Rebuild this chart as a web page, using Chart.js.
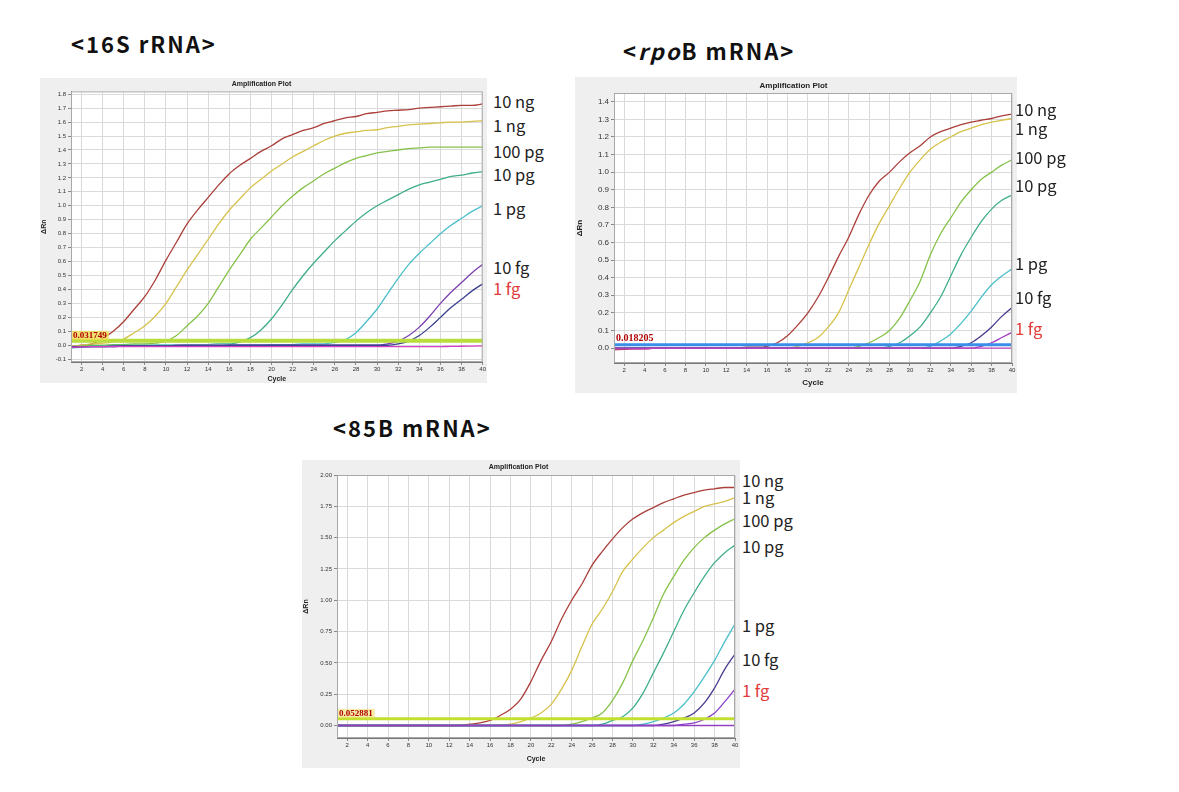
<!DOCTYPE html>
<html>
<head>
<meta charset="utf-8">
<script src="https://cdn.jsdelivr.net/npm/chart.js@4"></script>
<style>
  body { margin: 0; background: #fff; width: 1179px; height: 792px; position: relative; overflow: hidden;
         font-family: "Noto Sans CJK KR", "Noto Sans", sans-serif; }
  .head { position: absolute; font-weight: bold; font-size: 22px; letter-spacing: 2px; color: #111;
          white-space: nowrap; line-height: 1; }
  .lbl { position: absolute; font-size: 16.5px; color: #222; white-space: nowrap; line-height: 1; }
  canvas { position: absolute; }
</style>
</head>
<body>
<div class="head" style="left:71px;top:32px">&lt;16S rRNA&gt;</div>
<div class="head" style="left:623px;top:39px">&lt;<i>rpo</i>B mRNA&gt;</div>
<div class="head" style="left:333px;top:416px">&lt;85B mRNA&gt;</div>

<canvas id="c16s" width="447" height="305" style="left:40px;top:78px"></canvas>
<canvas id="crpob" width="442" height="316" style="left:575px;top:77px"></canvas>
<canvas id="c85b" width="438" height="308" style="left:302px;top:460px"></canvas>

<script>
// --- data -----------------------------------------------------------
const CYCLES = [1,2,3,4,5,6,7,8,9,10,11,12,13,14,15,16,17,18,19,20,
                21,22,23,24,25,26,27,28,29,30,31,32,33,34,35,36,37,38,39,40];
const LABELS = ['10 ng', '1 ng', '100 pg', '10 pg', '1 pg', '10 fg', '1 fg'];

// 16S rRNA
const S16_10NG = [-0.01,0.00,0.01,0.05,0.10,0.17,0.26,0.35,0.47,0.61,
                  0.74,0.87,0.97,1.06,1.15,1.23,1.29,1.34,1.39,1.43,
                  1.48,1.51,1.54,1.56,1.59,1.61,1.63,1.64,1.66,1.67,
                  1.68,1.685,1.69,1.70,1.705,1.71,1.715,1.72,1.72,1.73];
const S16_1NG = [-0.01,0.00,0.01,0.015,0.025,0.045,0.09,0.14,0.21,0.30,
                 0.42,0.54,0.65,0.76,0.87,0.97,1.05,1.13,1.19,1.25,
                 1.30,1.35,1.39,1.43,1.47,1.50,1.52,1.53,1.54,1.545,
                 1.56,1.57,1.58,1.585,1.59,1.595,1.60,1.60,1.605,1.61];
const S16_100PG = [-0.01,-0.005,0.00,0.00,0.005,0.005,0.01,0.01,0.015,0.03,
                   0.07,0.14,0.21,0.30,0.42,0.54,0.65,0.76,0.84,0.92,
                   1.00,1.07,1.13,1.18,1.23,1.27,1.31,1.34,1.36,1.38,
                   1.39,1.40,1.41,1.415,1.42,1.42,1.42,1.42,1.42,1.42];
const S16_10PG = [-0.01,-0.01,-0.005,-0.005,0.00,0.00,0.00,0.00,0.00,0.00,
                  0.00,0.005,0.005,0.005,0.01,0.01,0.025,0.055,0.11,0.19,
                  0.29,0.40,0.50,0.59,0.67,0.75,0.82,0.89,0.95,1.00,
                  1.04,1.08,1.12,1.15,1.17,1.19,1.21,1.22,1.235,1.245];
const S16_1PG = [-0.02,-0.015,-0.01,-0.01,-0.01,-0.005,-0.005,-0.005,0.00,0.00,
                 0.00,0.00,0.00,0.00,0.00,0.00,0.00,0.00,0.00,0.005,
                 0.005,0.005,0.01,0.01,0.01,0.02,0.04,0.09,0.17,0.26,
                 0.37,0.48,0.58,0.66,0.73,0.80,0.86,0.91,0.96,1.00];
const S16_10FG = [-0.015,-0.01,-0.01,-0.01,-0.005,-0.005,-0.005,-0.005,-0.005,-0.005,
                  0.00,0.00,0.00,0.00,0.00,0.00,0.00,0.00,0.00,0.00,
                  0.00,0.00,0.00,0.00,0.00,0.00,0.00,0.00,0.00,0.00,
                  0.01,0.03,0.07,0.13,0.21,0.30,0.38,0.45,0.52,0.58];
const S16_1FG = [-0.01,-0.01,-0.01,-0.01,-0.01,-0.005,-0.005,-0.005,-0.005,-0.005,
                 -0.005,-0.005,-0.005,-0.005,-0.005,0.00,0.00,0.00,0.00,0.00,
                 0.00,0.00,0.00,0.00,0.00,0.00,0.00,0.00,0.00,0.00,
                 0.00,0.01,0.03,0.07,0.13,0.20,0.27,0.33,0.39,0.44];
const S16_NTC = [-0.015,-0.012,-0.01,-0.01,-0.01,-0.01,-0.01,-0.01,-0.01,-0.01,
                 -0.01,-0.01,-0.01,-0.01,-0.01,-0.01,-0.01,-0.01,-0.01,-0.01,
                 -0.01,-0.01,-0.01,-0.01,-0.01,-0.01,-0.01,-0.01,-0.01,-0.01,
                 -0.01,-0.01,-0.01,-0.01,-0.01,-0.01,-0.008,-0.007,-0.006,-0.005];
const S16_THRESHOLD = 0.031749;

// rpoB mRNA
const R_10NG = [-0.01,-0.008,-0.005,-0.005,0.00,0.00,0.00,0.00,0.00,0.00,
                0.00,0.00,0.00,0.005,0.005,0.01,0.03,0.07,0.13,0.20,
                0.29,0.40,0.52,0.63,0.76,0.87,0.95,1.00,1.06,1.11,
                1.15,1.20,1.23,1.25,1.27,1.285,1.295,1.305,1.32,1.33];
const R_1NG = [0.00,0.00,0.00,0.00,0.00,0.00,0.00,0.00,0.00,0.00,
               0.00,0.00,0.00,0.00,0.00,0.00,0.00,0.00,0.01,0.03,
               0.06,0.12,0.20,0.33,0.46,0.59,0.71,0.81,0.91,1.00,
               1.07,1.13,1.17,1.20,1.23,1.25,1.27,1.285,1.295,1.305];
const R_100PG = [0.00,0.00,0.00,0.00,0.00,0.00,0.00,0.00,0.00,0.00,
                 0.00,0.00,0.00,0.00,0.00,0.00,0.00,0.00,0.00,0.00,
                 0.00,0.00,0.00,0.00,0.01,0.03,0.06,0.10,0.17,0.27,
                 0.38,0.53,0.65,0.74,0.83,0.90,0.96,1.00,1.04,1.07];
const R_10PG = [0.00,0.00,0.00,0.00,0.00,0.00,0.00,0.00,0.00,0.00,
                0.00,0.00,0.00,0.00,0.00,0.00,0.00,0.00,0.00,0.00,
                0.00,0.00,0.00,0.00,0.00,0.00,0.00,0.01,0.03,0.07,
                0.12,0.20,0.29,0.41,0.53,0.63,0.72,0.79,0.84,0.87];
const R_1PG = [0.00,0.00,0.00,0.00,0.00,0.00,0.00,0.00,0.00,0.00,
               0.00,0.00,0.00,0.00,0.00,0.00,0.00,0.00,0.00,0.00,
               0.00,0.00,0.00,0.00,0.00,0.00,0.00,0.00,0.00,0.00,
               0.00,0.01,0.04,0.08,0.14,0.21,0.29,0.36,0.41,0.45];
const R_10FG = [0.00,0.00,0.00,0.00,0.00,0.00,0.00,0.00,0.00,0.00,
                0.00,0.00,0.00,0.00,0.00,0.00,0.00,0.00,0.00,0.00,
                0.00,0.00,0.00,0.00,0.00,0.00,0.00,0.00,0.00,0.00,
                0.00,0.00,0.00,0.00,0.01,0.03,0.07,0.12,0.18,0.23];
const R_1FG = [0.00,0.00,0.00,0.00,0.00,0.00,0.00,0.00,0.00,0.00,
               0.00,0.00,0.00,0.00,0.00,0.00,0.00,0.00,0.00,0.00,
               0.00,0.00,0.00,0.00,0.00,0.00,0.00,0.00,0.00,0.00,
               0.00,0.00,0.00,0.00,0.00,0.00,0.01,0.03,0.06,0.09];
const R_NTC = [-0.005,-0.005,-0.005,-0.005,0.00,0.00,0.00,0.00,0.00,0.00,
               0.00,0.00,0.00,0.00,0.00,0.00,0.00,0.00,0.00,0.00,
               0.00,0.00,0.00,0.00,0.00,0.00,0.00,0.00,0.00,0.00,
               0.00,0.00,0.00,0.00,0.00,0.00,0.00,0.00,0.00,0.00];
const R_THRESHOLD = 0.018205;

// 85B mRNA
const B_10NG = [0.00,0.00,0.00,0.00,0.00,0.00,0.00,0.00,0.00,0.00,
                0.00,0.00,0.00,0.01,0.02,0.04,0.08,0.13,0.21,0.35,
                0.52,0.67,0.85,1.00,1.13,1.28,1.39,1.49,1.58,1.65,
                1.70,1.74,1.78,1.81,1.84,1.86,1.88,1.89,1.90,1.90];
const B_1NG = [0.00,0.00,0.00,0.00,0.00,0.00,0.00,0.00,0.00,0.00,
               0.00,0.00,0.00,0.00,0.00,0.00,0.00,0.01,0.03,0.06,
               0.10,0.17,0.29,0.44,0.63,0.81,0.93,1.07,1.23,1.33,
               1.42,1.50,1.56,1.62,1.67,1.71,1.75,1.77,1.79,1.82];
const B_100PG = [0.00,0.00,0.00,0.00,0.00,0.00,0.00,0.00,0.00,0.00,
                 0.00,0.00,0.00,0.00,0.00,0.00,0.00,0.00,0.00,0.00,
                 0.00,0.00,0.00,0.01,0.03,0.06,0.10,0.20,0.34,0.52,
                 0.68,0.86,1.05,1.19,1.32,1.42,1.50,1.56,1.61,1.65];
const B_10PG = [0.00,0.00,0.00,0.00,0.00,0.00,0.00,0.00,0.00,0.00,
                0.00,0.00,0.00,0.00,0.00,0.00,0.00,0.00,0.00,0.00,
                0.00,0.00,0.00,0.00,0.00,0.00,0.01,0.04,0.07,0.14,
                0.26,0.42,0.58,0.75,0.92,1.06,1.19,1.30,1.38,1.44];
const B_1PG = [0.00,0.00,0.00,0.00,0.00,0.00,0.00,0.00,0.00,0.00,
               0.00,0.00,0.00,0.00,0.00,0.00,0.00,0.00,0.00,0.00,
               0.00,0.00,0.00,0.00,0.00,0.00,0.00,0.00,0.00,0.00,
               0.01,0.03,0.06,0.10,0.17,0.27,0.39,0.52,0.67,0.81];
const B_10FG = [0.00,0.00,0.00,0.00,0.00,0.00,0.00,0.00,0.00,0.00,
                0.00,0.00,0.00,0.00,0.00,0.00,0.00,0.00,0.00,0.00,
                0.00,0.00,0.00,0.00,0.00,0.00,0.00,0.00,0.00,0.00,
                0.00,0.00,0.01,0.03,0.06,0.10,0.18,0.30,0.45,0.57];
const B_1FG = [0.00,0.00,0.00,0.00,0.00,0.00,0.00,0.00,0.00,0.00,
               0.00,0.00,0.00,0.00,0.00,0.00,0.00,0.00,0.00,0.00,
               0.00,0.00,0.00,0.00,0.00,0.00,0.00,0.00,0.00,0.00,
               0.00,0.00,0.00,0.00,0.01,0.02,0.05,0.10,0.19,0.29];
const B_NTC = [0.00,0.00,0.00,0.00,0.00,0.00,0.00,0.00,0.00,0.00,
               0.00,0.00,0.00,0.00,0.00,0.00,0.00,0.00,0.00,0.00,
               0.00,0.00,0.00,0.00,0.00,0.00,0.00,0.00,0.00,0.00,
               0.00,0.00,0.00,0.00,0.00,0.00,0.00,0.00,0.00,0.00];
const B_THRESHOLD = 0.052881;

// --- plugins ---------------------------------------------------------
const panelBg = {
  id: 'panelBg',
  beforeDraw(chart) {
    const { ctx, chartArea: a, width, height } = chart;
    ctx.save();
    ctx.fillStyle = '#efefef';
    ctx.fillRect(0, 0, width, height);
    ctx.fillStyle = '#ffffff';
    ctx.fillRect(a.left, a.top, a.right - a.left, a.bottom - a.top);
    ctx.restore();
  },
  afterDraw(chart) {
    const { ctx, chartArea: a } = chart;
    ctx.save();
    ctx.strokeStyle = '#a8a8a8';
    ctx.lineWidth = 1;
    ctx.strokeRect(a.left + 0.5, a.top + 0.5, a.right - a.left - 1, a.bottom - a.top - 1);
    ctx.restore();
  }
};

const threshold = {
  id: 'threshold',
  afterDatasetsDraw(chart, args, o) {
    const { ctx, chartArea: a, scales } = chart;
    const y = scales.y.getPixelForValue(o.value);
    ctx.save();
    ctx.strokeStyle = o.color;
    ctx.lineWidth = o.width;
    ctx.beginPath();
    ctx.moveTo(a.left, y);
    ctx.lineTo(a.right, y);
    ctx.stroke();
    ctx.font = 'bold ' + o.size + 'px "Liberation Serif", serif';
    const txt = String(o.value);
    const w = ctx.measureText(txt).width;
    if (o.labelBg) {
      ctx.fillStyle = o.labelBg;
      ctx.fillRect(a.left + 1, y - o.size - 1, w + 3, o.size);
    }
    ctx.fillStyle = '#b00000';
    ctx.textBaseline = 'bottom';
    ctx.fillText(txt, a.left + 2, y - 1);
    ctx.restore();
  }
};

// --- builder ---------------------------------------------------------
function buildPlot(id, series, colors, lay) {
  const datasets = series.map((vals, i) => ({
    data: vals.map((v, j) => ({ x: CYCLES[j], y: v })),
    borderColor: colors[i],
    borderWidth: 1.3,
    pointRadius: 0,
    cubicInterpolationMode: 'monotone',
    fill: false
  }));

  new Chart(document.getElementById(id), {
    type: 'line',
    data: { datasets: datasets },
    plugins: [panelBg, threshold],
    options: {
      responsive: false,
      animation: false,
      layout: { padding: { right: lay.padRight } },
      plugins: {
        legend: { display: false },
        tooltip: { enabled: false },
        title: {
          display: true, text: 'Amplification Plot', color: '#222',
          font: { size: lay.titleSize, weight: 'bold', family: 'Arial, "Liberation Sans"' },
          padding: lay.titlePad
        },
        threshold: lay.threshold
      },
      scales: {
        x: {
          type: 'linear', min: 1, max: 40,
          ticks: { stepSize: 2, includeBounds: false, autoSkip: false, maxRotation: 0,
                   maxTicksLimit: 100, padding: 1, color: '#333',
                   font: { size: 6, family: 'Arial, "Liberation Sans"' } },
          grid: { color: '#dadada', tickLength: 3, tickColor: '#888' },
          border: { color: '#777' },
          title: { display: true, text: 'Cycle', color: '#222',
                   font: { size: lay.axisTitleSize, weight: 'bold', family: 'Arial, "Liberation Sans"' },
                   padding: { top: 0, bottom: lay.cyclePadBottom } },
          afterFit: s => { s.height = lay.xHeight; }
        },
        y: {
          min: lay.yMin, max: lay.yMax,
          ticks: { stepSize: lay.yStep, includeBounds: false, maxTicksLimit: 100, padding: 2,
                   color: '#333', font: { size: lay.yTickSize, family: 'Arial, "Liberation Sans"' },
                   callback: v => v.toFixed(lay.yDecimals) },
          grid: { color: '#dadada', tickLength: 3, tickColor: '#888' },
          border: { color: '#777' },
          title: { display: true, text: 'ΔRn', color: '#222',
                   font: { size: lay.axisTitleSize, weight: 'bold', family: 'Arial, "Liberation Sans"' },
                   padding: 0 },
          afterFit: s => { s.width = lay.yWidth; }
        }
      }
    }
  });

  // concentration labels to the right of the panel
  LABELS.forEach((t, i) => {
    const d = document.createElement('div');
    d.className = 'lbl';
    d.textContent = t;
    d.style.left = lay.labelLeft + 'px';
    d.style.top = lay.labelTops[i] + 'px';
    if (t === '1 fg') d.style.color = '#e23a3a';
    document.body.appendChild(d);
  });
}

const COLORS_16S = ['#d440c4', '#3a3f8f', '#7b3fb0', '#4bbfc9', '#3fae8a', '#86c24a', '#d6c24c', '#ab3f3a'];
const COLORS_RPOB = ['#c040c0', '#a038c0', '#4a3a90', '#4bbfc9', '#3fae8a', '#86c24a', '#d6c24c', '#ab3f3a'];
const COLORS_85B = ['#9040c0', '#8a40c8', '#4a3a90', '#4bbfc9', '#3fae8a', '#86c24a', '#d6c24c', '#ab3f3a'];

buildPlot('c16s',
  [S16_NTC, S16_1FG, S16_10FG, S16_1PG, S16_10PG, S16_100PG, S16_1NG, S16_10NG],
  COLORS_16S,
  { padRight: 4, titleSize: 7, titlePad: { top: 2, bottom: 3 }, axisTitleSize: 7, cyclePadBottom: 0,
    xHeight: 21, yWidth: 31, yMin: -0.12, yMax: 1.82, yStep: 0.1, yDecimals: 1, yTickSize: 6,
    threshold: { value: S16_THRESHOLD, color: '#b9dd3c', width: 4, size: 9, labelBg: 'rgba(240,220,80,0.8)' },
    labelLeft: 493, labelTops: [93, 117, 143, 166, 200, 259, 280] });

buildPlot('crpob',
  [R_NTC, R_1FG, R_10FG, R_1PG, R_10PG, R_100PG, R_1NG, R_10NG],
  COLORS_RPOB,
  { padRight: 5, titleSize: 8, titlePad: { top: 4, bottom: 2.4 }, axisTitleSize: 8, cyclePadBottom: 5,
    xHeight: 30, yWidth: 39, yMin: -0.085, yMax: 1.45, yStep: 0.1, yDecimals: 1, yTickSize: 8,
    threshold: { value: R_THRESHOLD, color: '#3a8ee8', width: 3, size: 10, labelBg: null },
    labelLeft: 1015, labelTops: [101, 120, 149, 177, 255, 289, 320] });

buildPlot('c85b',
  [B_NTC, B_1FG, B_10FG, B_1PG, B_10PG, B_100PG, B_1NG, B_10NG],
  COLORS_85B,
  { padRight: 5, titleSize: 7, titlePad: { top: 3, bottom: 3.6 }, axisTitleSize: 7, cyclePadBottom: 5,
    xHeight: 30, yWidth: 35, yMin: -0.1, yMax: 2.0, yStep: 0.25, yDecimals: 2, yTickSize: 6,
    threshold: { value: B_THRESHOLD, color: '#c2e030', width: 3, size: 9, labelBg: 'rgba(240,220,80,0.5)' },
    labelLeft: 742, labelTops: [472, 489, 512, 538, 617, 651, 682] });
</script>
</body>
</html>
